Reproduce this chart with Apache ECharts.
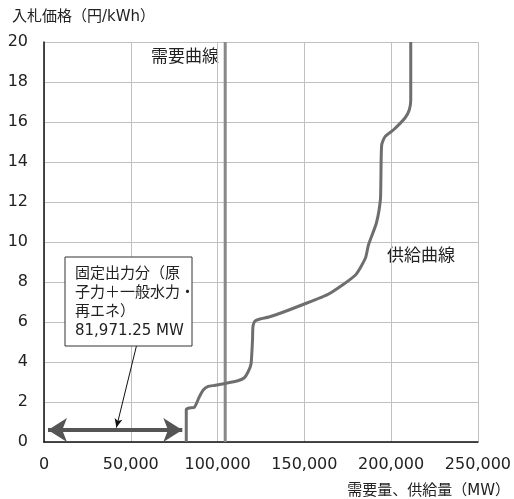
<!DOCTYPE html>
<html>
<head>
<meta charset="utf-8">
<script src="https://cdn.jsdelivr.net/npm/echarts@6/dist/echarts.min.js"></script>
<style>html,body{margin:0;padding:0;background:#fff}#c{width:514px;height:499px}</style>
</head>
<body>
<div id="c"></div>
<script>
var FONT = "'DejaVu Sans','Noto Sans CJK JP',sans-serif";
var xTickLabels = ['0','50,000','100,000','150,000','200,000','250,000'];
var yTicks = [0,2,4,6,8,10,12,14,16,18,20];
// Supply curve (MW, 円/kWh)
var supplyMW = [81971,81971,83700,86580,89450,91740,94610,98050,104360,111240,115250,117550,119270,120130,120410,121560,124430,129590,136470,148510,163990,179470,185200,186930,191510,193800,194090,194560,196500,201260,207970,210440,211300,211300];
var supplyPrice = [0,1.63,1.70,1.73,2.25,2.6,2.78,2.83,2.93,3.05,3.2,3.5,3.9,5.1,5.8,6.05,6.15,6.25,6.45,6.85,7.4,8.35,9.2,9.85,10.95,12.1,13.1,14.85,15.27,15.6,16.2,16.6,17.1,20];
// Demand curve
var demandMW = [104400,104400];
var demandPrice = [0,20];
// Fixed output annotation
var fixedOutputMW = 81971.25;
var arrowPrice = 0.6;

var supplyData = supplyMW.map(function(x,i){return [x,supplyPrice[i]];});
var demandData = demandMW.map(function(x,i){return [x,demandPrice[i]];});

var chart = echarts.init(document.getElementById('c'));
chart.setOption({
  animation:false,
  backgroundColor:'#fff',
  textStyle:{fontFamily:FONT},
  grid:{left:44,right:34,top:42,bottom:57},
  xAxis:{
    type:'value',min:0,max:250000,interval:50000,
    axisLine:{show:true,lineStyle:{color:'#111',width:1.5}},
    axisTick:{show:false},
    axisLabel:{fontSize:16,color:'#222',margin:15,fontFamily:FONT,
      formatter:function(v){return xTickLabels[Math.round(v/50000)];}},
    splitLine:{show:true,lineStyle:{color:'#c0c0c0',width:1}}
  },
  yAxis:{
    type:'value',min:0,max:20,interval:2,
    axisLine:{show:true,lineStyle:{color:'#111',width:1.5}},
    axisTick:{show:false},
    axisLabel:{fontSize:16,color:'#222',margin:16,fontFamily:FONT,
      formatter:function(v){return String(v);}},
    splitLine:{show:true,lineStyle:{color:'#c0c0c0',width:1}}
  },
  series:[
    {type:'line',data:demandData,showSymbol:false,symbol:'none',
      lineStyle:{color:'#888',width:3},z:3},
    {type:'line',data:supplyData,showSymbol:false,symbol:'none',smooth:0.2,
      lineStyle:{color:'#6e6e6e',width:3},z:4},
    {type:'line',data:[],z:5,
      markLine:{silent:true,animation:false,label:{show:false},
        data:[
          [{coord:[2300,arrowPrice],symbol:'arrow',symbolSize:[18,19],lineStyle:{color:'#555',width:4,type:'solid'}},
           {coord:[fixedOutputMW-2300,arrowPrice],symbol:'arrow',symbolSize:[18,19]}],
          [{coord:[53300,4.815],symbol:'none',lineStyle:{color:'#111',width:1,type:'solid'}},
           {coord:[41700,0.72],symbol:'arrow',symbolSize:[6,9]}]
        ]}}
  ],
  graphic:[
    {type:'text',left:12,top:10,style:{text:'入札価格（円/kWh）',font:'15px '+FONT,fill:'#222'}},
    {type:'text',right:4,top:484,style:{text:'需要量、供給量（MW）',font:'15px '+FONT,fill:'#222'}},
    {type:'text',left:151,top:49,style:{text:'需要曲線',font:'17px '+FONT,fill:'#222'}},
    {type:'text',left:387,top:248,style:{text:'供給曲線',font:'17px '+FONT,fill:'#222'}},
    {type:'rect',shape:{x:65,y:257,width:127,height:89},style:{fill:'#fff',stroke:'#333',lineWidth:1},z:10},
    {type:'text',left:75,top:265,z:11,style:{text:'固定出力分（原\n子力＋一般水力・\n再エネ）\n81,971.25 MW',font:'15px '+FONT,fill:'#222',lineHeight:19}}
  ]
});
</script>
</body>
</html>
